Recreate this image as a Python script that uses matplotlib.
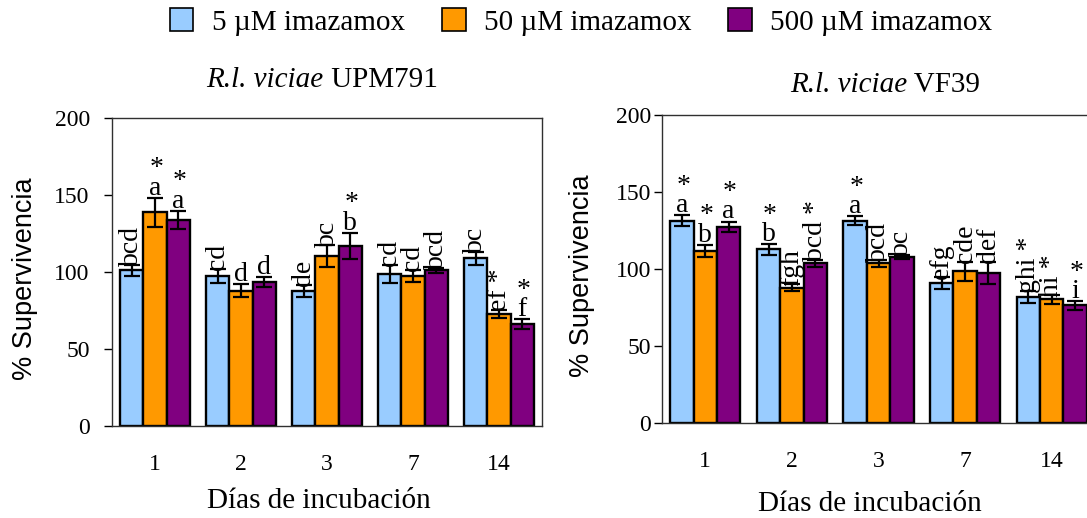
import matplotlib
matplotlib.use("Agg")
import matplotlib.pyplot as plt
from matplotlib.patches import Patch
import numpy as np

plt.rcParams['font.family'] = ['Liberation Serif', 'DejaVu Serif']

days = ['1', '2', '3', '7', '14']
doses = ['5 µM imazamox', '50 µM imazamox', '500 µM imazamox']
colors = ['#99CCFF', '#FF9900', '#800080']

# R.l. viciae UPM791
upm_5 = [101.0, 97.4, 87.9, 98.7, 108.9]
upm_5_err = [3.6, 4.5, 3.9, 6.0, 4.3]
upm_50 = [138.7, 87.9, 110.4, 97.4, 72.7]
upm_50_err = [9.5, 4.3, 7.0, 3.9, 2.7]
upm_500 = [133.8, 93.5, 116.9, 101.0, 66.2]
upm_500_err = [5.8, 3.4, 8.4, 1.8, 3.0]
upm_5_let = ['bcd', 'cd', 'de', 'cd', 'bc']
upm_50_let = ['a', 'd', 'bc', 'cd', 'ef']
upm_500_let = ['a', 'd', 'b', 'bcd', 'f']
upm_5_sig = [0, 0, 0, 0, 0]
upm_50_sig = [1, 0, 0, 0, 1]
upm_500_sig = [1, 0, 1, 0, 1]

# R.l. viciae VF39
vf_5 = [131.3, 112.7, 131.3, 90.8, 81.7]
vf_5_err = [3.6, 3.3, 3.0, 3.8, 3.7]
vf_50 = [111.6, 87.8, 103.6, 98.6, 80.2]
vf_50_err = [4.0, 2.2, 2.0, 6.1, 2.7]
vf_500 = [127.4, 103.6, 107.9, 97.3, 76.3]
vf_500_err = [3.3, 2.4, 1.2, 7.2, 2.6]
vf_5_let = ['a', 'b', 'a', 'efg', 'ghi']
vf_50_let = ['b', 'fgh', 'bcd', 'cde', 'hi']
vf_500_let = ['a', 'bcd', 'bc', 'def', 'i']
vf_5_sig = [1, 1, 1, 0, 1]
vf_50_sig = [1, 0, 0, 0, 1]
vf_500_sig = [1, 1, 0, 0, 1]

W, H = 1087, 518
fig = plt.figure(figsize=(W / 100, H / 100), dpi=100)
renderer = fig.canvas.get_renderer()


def px_axes(x0, x1, y_top, y_bot):
    return fig.add_axes([x0 / W, 1 - y_bot / H, (x1 - x0) / W, (y_bot - y_top) / H])


def panel(ax, vals, errs, lets, sigs, ypad):
    x = np.arange(len(days))
    w = 0.27
    for i in range(3):
        xi = x + (i - 1) * w
        ax.bar(xi, vals[i], w, color=colors[i], edgecolor='black', linewidth=1.7, zorder=2)
        ax.errorbar(xi, vals[i], yerr=errs[i], fmt='none', ecolor='black',
                    elinewidth=1.6, capsize=5.5, capthick=1.6, zorder=3)
        for j in range(len(days)):
            top = vals[i][j] + errs[i][j]
            lab = lets[i][j]
            if len(lab) > 1:
                txt = lab + (' *' if sigs[i][j] else '')
                ax.annotate(txt, (xi[j], top), xytext=(0, -1), textcoords='offset points',
                            rotation=90, ha='center', va='bottom', fontsize=20)
            else:
                ax.annotate(lab, (xi[j], top), xytext=(0, -2), textcoords='offset points',
                            ha='center', va='bottom', fontsize=20)
                if sigs[i][j]:
                    ax.annotate('*', (xi[j], top), xytext=(1, 12), textcoords='offset points',
                                ha='center', va='bottom', fontsize=20)
    ax.set_xlim(-0.5, 4.5)
    ax.set_ylim(0, 200)
    ax.set_yticks([0, 50, 100, 150, 200])
    ax.set_xticks(x)
    ax.set_xticklabels(days)
    ax.tick_params(axis='x', length=0, pad=20, labelsize=17)
    ax.tick_params(axis='y', length=6, width=1, direction='out', pad=ypad, labelsize=17)
    for s in ax.spines.values():
        s.set_linewidth(1.0)
        s.set_color('#303030')


def title(xc, yc, italic, plain):
    # italic species name followed by upright strain name, centred on xc
    t1 = fig.text(0, 0, italic, style='italic', fontsize=21, va='center')
    t2 = fig.text(0, 0, plain, fontsize=21, va='center')
    w1 = t1.get_window_extent(renderer).width
    w2 = t2.get_window_extent(renderer).width
    x0 = xc - (w1 + w2) / 2
    t1.set_position((x0 / W, 1 - yc / H))
    t2.set_position(((x0 + w1) / W, 1 - yc / H))


ax1 = px_axes(112, 542, 118, 426)
panel(ax1, [upm_5, upm_50, upm_500], [upm_5_err, upm_50_err, upm_500_err],
      [upm_5_let, upm_50_let, upm_500_let], [upm_5_sig, upm_50_sig, upm_500_sig], 10)

ax2 = px_axes(662, 1095, 115, 423)
panel(ax2, [vf_5, vf_50, vf_500], [vf_5_err, vf_50_err, vf_500_err],
      [vf_5_let, vf_50_let, vf_500_let], [vf_5_sig, vf_50_sig, vf_500_sig], 2)

title(322, 80, 'R.l. viciae', ' UPM791')
title(885, 85, 'R.l. viciae', ' VF39')
fig.text(319 / W, 1 - 508 / H, 'Días de incubación', ha='center', va='baseline', fontsize=21)
fig.text(870 / W, 1 - 511 / H, 'Días de incubación', ha='center', va='baseline', fontsize=21)
for xp, yp in [(25, 279), (582, 276)]:
    fig.text(xp / W, 1 - yp / H, '% Supervivencia', rotation=90, ha='center', va='center',
             fontsize=19.5, family=['Liberation Sans', 'DejaVu Sans'])

handles = [Patch(facecolor=c, edgecolor='black', linewidth=1.2) for c in colors]
fig.legend(handles, doses, loc='upper center', bbox_to_anchor=(581 / W, 0.995), ncol=3,
           frameon=False, fontsize=21, handlelength=0.82, handleheight=0.8,
           handletextpad=0.62, columnspacing=1.27, borderaxespad=0.1, borderpad=0.1)

fig.savefig('out.png', dpi=100)
